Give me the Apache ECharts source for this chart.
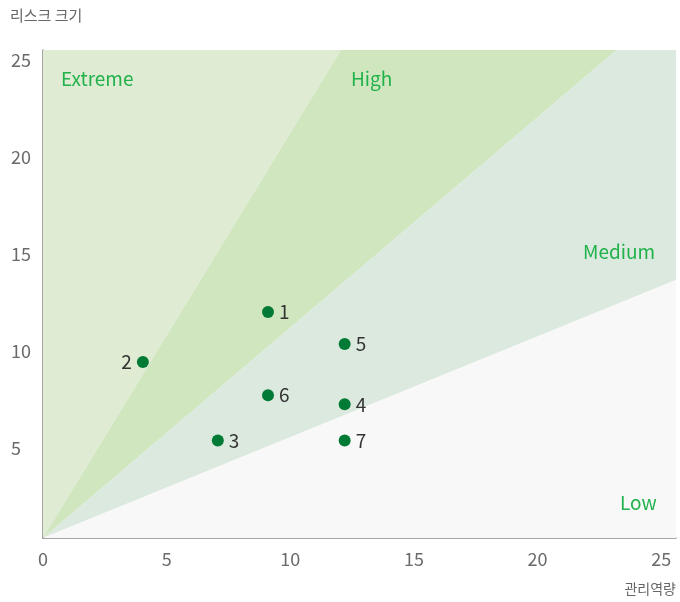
<!DOCTYPE html>
<html>
<head>
<meta charset="utf-8">
<script src="https://cdn.jsdelivr.net/npm/echarts@6/dist/echarts.min.js"></script>
<style>
html,body{margin:0;padding:0;background:#fff;}
#chart{width:680px;height:602px;}
</style>
</head>
<body>
<div id="chart"></div>
<script>
// axis ranges and ticks
const xMax = 25.6;
const yMax = 25.15;
const tickValues = [0, 5, 10, 15, 20, 25];

// zone boundary end points (data units)
const extremeHighEnd = [12.05, yMax];
const highMediumEnd = [23.2, yMax];
const mediumLowEnd = [xMax, 13.3];

const zoneNames = ['Extreme', 'High', 'Medium', 'Low'];
const zonePolygons = [
  [[0, 0], [0, yMax], extremeHighEnd],
  [[0, 0], extremeHighEnd, highMediumEnd],
  [[0, 0], highMediumEnd, [xMax, yMax], mediumLowEnd],
  [[0, 0], mediumLowEnd, [xMax, 0]]
];
const zoneColors = ['#dfebd3', '#d0e6bf', '#dce9de', '#f8f8f8'];

// risk points
const pointLabels = ['1', '2', '3', '4', '5', '6', '7'];
const pointX = [9.1, 4.04, 7.07, 12.2, 12.2, 9.1, 12.2];
const pointY = [11.65, 9.07, 5.02, 6.89, 10.0, 7.36, 5.02];

const fontFam = '"Noto Sans CJK KR", "Noto Sans", sans-serif';
const green = '#22b24c';

const chart = echarts.init(document.getElementById('chart'), null, {renderer: 'canvas'});

const option = {
  animation: false,
  backgroundColor: '#ffffff',
  grid: {left: 43, right: 4, top: 50, bottom: 64, containLabel: false},
  xAxis: {
    type: 'value', min: 0, max: xMax, interval: 5,
    axisLine: {show: true, lineStyle: {color: '#8a8a8a', width: 1.5}},
    axisTick: {show: false},
    splitLine: {show: false},
    axisLabel: {
      margin: 12, color: '#6a6a6a', fontSize: 18, fontFamily: fontFam,
      showMaxLabel: true,
      formatter: v => tickValues.includes(v) ? String(v) : ''
    }
  },
  yAxis: {
    type: 'value', min: 0, max: yMax, interval: 5,
    axisLine: {show: true, lineStyle: {color: '#8a8a8a', width: 1.5}},
    axisTick: {show: false},
    splitLine: {show: false},
    axisLabel: {
      margin: 32, align: 'left', verticalAlign: 'top', lineHeight: 14,
      color: '#6a6a6a', fontSize: 18, fontFamily: fontFam,
      showMinLabel: false,
      formatter: v => (tickValues.includes(v) && v !== 0) ? String(v) : ''
    }
  },
  graphic: [
    {type: 'text', left: 10, top: 8, style: {text: '리스크 크기', fill: '#666', font: '15px ' + fontFam}},
    {type: 'text', right: 4, top: 582, style: {text: '관리역량', fill: '#666', font: '14px ' + fontFam}},
    {type: 'text', left: 61, top: 69, z: 10, style: {text: zoneNames[0], fill: green, font: '19px ' + fontFam}},
    {type: 'text', left: 351, top: 69, z: 10, style: {text: zoneNames[1], fill: green, font: '19px ' + fontFam}},
    {type: 'text', left: 583, top: 242, z: 10, style: {text: zoneNames[2], fill: green, font: '19px ' + fontFam}},
    {type: 'text', left: 620, top: 493, z: 10, style: {text: zoneNames[3], fill: green, font: '19px ' + fontFam}}
  ],
  series: [
    {
      type: 'custom',
      silent: true,
      z: 1,
      data: zoneNames.map((n, i) => [i]),
      renderItem: function (params, api) {
        const poly = zonePolygons[params.dataIndex];
        const pts = poly.map(p => api.coord(p));
        return {
          type: 'polygon',
          shape: {points: pts},
          style: {fill: zoneColors[params.dataIndex], stroke: null}
        };
      }
    },
    {
      type: 'scatter',
      z: 5,
      symbolSize: 12,
      itemStyle: {color: '#007a35', opacity: 1},
      data: pointLabels.map((l, i) => ({
        value: [pointX[i], pointY[i]],
        name: l,
        label: {position: l === '2' ? 'left' : 'right'}
      })),
      label: {
        show: true, distance: 5,
        formatter: p => p.name,
        color: '#333', fontSize: 19, fontFamily: fontFam
      }
    }
  ]
};
chart.setOption(option);
</script>
</body>
</html>
